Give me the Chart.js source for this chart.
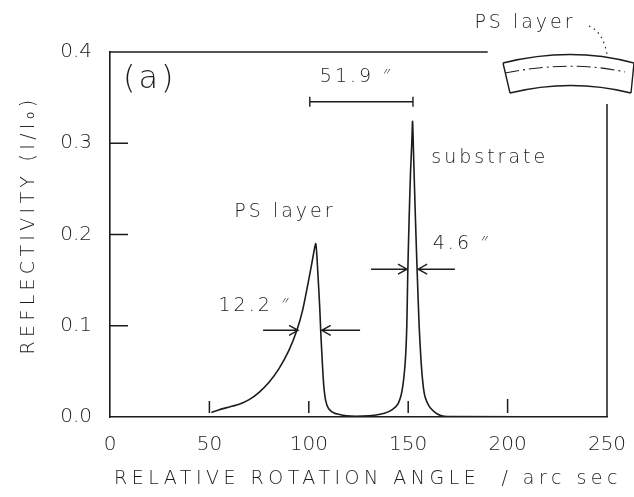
<!DOCTYPE html>
<html>
<head>
<meta charset="utf-8">
<script src="https://cdn.jsdelivr.net/npm/chart.js@4/dist/chart.umd.min.js"></script>
<style>
  html, body { margin: 0; padding: 0; background: #fff; }
  canvas { display: block; }
</style>
</head>
<body>
<canvas id="rocking" width="634" height="497"></canvas>
<script>
// rocking curve: relative rotation angle (arc sec) vs reflectivity I/I0
const angle = [51, 55, 60, 65, 70, 75, 80, 85, 90, 94, 97, 99.5, 101.5, 103.5,
  104.5, 105.5, 106, 106.8, 107.5, 108.5, 110, 113, 117, 121, 127, 133, 138, 142,
  145, 147, 148.5, 149.3, 149.8, 150.5, 151.2, 151.8, 152.2,
  152.8, 153.6, 154.5, 155.5, 156.5, 157.5, 158.5, 160.5, 163, 166, 170, 250];
const refl = [0.005, 0.008, 0.011, 0.014, 0.019, 0.027, 0.038, 0.053, 0.073, 0.095, 0.118, 0.145, 0.168, 0.19,
  0.16, 0.12, 0.094, 0.06, 0.035, 0.018, 0.009, 0.004, 0.002, 0.001, 0.001, 0.002, 0.004, 0.008,
  0.015, 0.03, 0.06, 0.1, 0.16, 0.22, 0.27, 0.3, 0.324,
  0.28, 0.22, 0.16, 0.1, 0.06, 0.035, 0.022, 0.012, 0.006, 0.002, 0.0005, 0];

const xTicks = [0, 50, 100, 150, 200, 250];
const yTicks = [0, 0.1, 0.2, 0.3, 0.4];
const xTitle = 'RELATIVE ROTATION ANGLE  / arc sec';
const yTitle = 'REFLECTIVITY (I/I\u2080)';

// half-width markers: [from, to] pairs, arrow head at "to"
const psWidthY = 0.095;
const psArrows = [[77, 94.6], [125.8, 106.5]];
const subWidthY = 0.162;
const subArrows = [[131.3, 149.4], [173.5, 155]];
// peak separation bar
const sepY = 0.3455;
const sepFrom = 100.5, sepTo = 152.4;

// labels: [text, x, y, size]
const notes = [
  ['(a)', 20, 0.370, 32],
  ['51.9 \u2033', 124, 0.3726, 19],
  ['substrate', 191, 0.2838, 19],
  ['PS layer', 88, 0.225, 19],
  ['4.6 \u2033', 177, 0.19, 19],
  ['12.2 \u2033', 73, 0.1216, 19]
];

const ink = '#1c1c1c';
const FONT = '"DejaVu Sans", "Noto Sans", sans-serif';

function arrow(ctx, x1, x2, y) {
  const d = Math.sign(x2 - x1);
  ctx.beginPath();
  ctx.moveTo(x1, y);
  ctx.lineTo(x2, y);
  ctx.moveTo(x2 - d * 9, y - 5);
  ctx.lineTo(x2, y);
  ctx.lineTo(x2 - d * 9, y + 5);
  ctx.stroke();
}

const extras = {
  id: 'extras',
  afterDraw(chart) {
    const ctx = chart.ctx;
    const xs = chart.scales.x, ys = chart.scales.y;
    const a = chart.chartArea;
    ctx.save();
    ctx.strokeStyle = ink;
    ctx.fillStyle = ink;
    ctx.lineWidth = 1.5;

    // partial frame on top and right
    ctx.beginPath();
    ctx.moveTo(a.left, a.top);
    ctx.lineTo(xs.getPixelForValue(190), a.top);
    ctx.moveTo(a.right, ys.getPixelForValue(0.343));
    ctx.lineTo(a.right, a.bottom);
    ctx.stroke();

    // inward tick marks
    ctx.beginPath();
    [0.1, 0.2, 0.3].forEach(v => {
      const py = ys.getPixelForValue(v);
      ctx.moveTo(a.left, py);
      ctx.lineTo(a.left + 18, py);
    });
    [50, 100, 150, 200].forEach(v => {
      const px = xs.getPixelForValue(v);
      ctx.moveTo(px, a.bottom - 4);
      ctx.lineTo(px, a.bottom - (v === 200 ? 18 : 16));
    });
    ctx.stroke();

    // width arrows
    ctx.lineWidth = 1.4;
    psArrows.forEach(p => arrow(ctx, xs.getPixelForValue(p[0]), xs.getPixelForValue(p[1]), ys.getPixelForValue(psWidthY)));
    subArrows.forEach(p => arrow(ctx, xs.getPixelForValue(p[0]), xs.getPixelForValue(p[1]), ys.getPixelForValue(subWidthY)));

    // separation bar
    const by = ys.getPixelForValue(sepY);
    const b1 = xs.getPixelForValue(sepFrom), b2 = xs.getPixelForValue(sepTo);
    ctx.beginPath();
    ctx.moveTo(b1, by); ctx.lineTo(b2, by);
    ctx.moveTo(b1, by - 5); ctx.lineTo(b1, by + 5);
    ctx.moveTo(b2, by - 5); ctx.lineTo(b2, by + 5);
    ctx.stroke();

    // annotation text
    ctx.textAlign = 'center';
    ctx.textBaseline = 'middle';
    ctx.letterSpacing = '3px';
    notes.forEach(n => {
      ctx.font = '200 ' + n[3] + 'px ' + FONT;
      ctx.fillText(n[0], xs.getPixelForValue(n[1]), ys.getPixelForValue(n[2]));
    });

    // sketch of the bent sample
    const r = a.right, t = a.top;
    ctx.lineWidth = 1.4;
    ctx.beginPath();
    ctx.moveTo(r - 104, t + 11);
    ctx.quadraticCurveTo(r - 36, t - 6, r + 27, t + 11);
    ctx.moveTo(r - 97, t + 41);
    ctx.quadraticCurveTo(r - 36, t + 26, r + 24, t + 41);
    ctx.moveTo(r - 104, t + 11);
    ctx.lineTo(r - 97, t + 41);
    ctx.moveTo(r + 27, t + 11);
    ctx.lineTo(r + 24, t + 41);
    ctx.stroke();
    ctx.lineWidth = 1.1;
    ctx.setLineDash([14, 4, 2, 4]);
    ctx.beginPath();
    ctx.moveTo(r - 102, t + 21);
    ctx.quadraticCurveTo(r - 36, t + 8, r + 18, t + 20);
    ctx.stroke();
    ctx.setLineDash([1.5, 4]);
    ctx.beginPath();
    ctx.moveTo(r - 18, t - 26);
    ctx.quadraticCurveTo(r - 4, t - 20, r, t + 2);
    ctx.stroke();
    ctx.setLineDash([]);
    ctx.font = '200 19px ' + FONT;
    ctx.fillText('PS layer', r - 82, t - 29);

    // axis titles
    ctx.font = '200 19px ' + FONT;
    ctx.letterSpacing = '4.5px';
    ctx.fillText(xTitle, 368, 479);
    ctx.save();
    ctx.translate(29, 225);
    ctx.rotate(-Math.PI / 2);
    ctx.letterSpacing = '4.3px';
    ctx.fillText(yTitle, 0, 0);
    ctx.restore();
    ctx.restore();
  }
};

new Chart(document.getElementById('rocking'), {
  type: 'line',
  data: {
    datasets: [{
      data: angle.map((x, i) => ({ x: x, y: refl[i] })),
      borderColor: ink,
      borderWidth: 1.6,
      pointRadius: 0,
      tension: 0.2,
      fill: false
    }]
  },
  options: {
    responsive: false,
    animation: false,
    devicePixelRatio: 1,
    layout: { padding: { top: 52, right: 27, left: 0, bottom: 0 } },
    plugins: { legend: { display: false }, tooltip: { enabled: false } },
    scales: {
      x: {
        type: 'linear',
        min: xTicks[0],
        max: xTicks[xTicks.length - 1],
        afterBuildTicks: s => { s.ticks = xTicks.map(v => ({ value: v })); },
        afterFit: s => { s.height = 80; s.paddingLeft = 0; s.paddingRight = 0; },
        grid: { display: false, drawTicks: false },
        border: { display: true, color: ink, width: 1.6 },
        ticks: { padding: 16, color: ink, font: { family: FONT, size: 20, weight: 200 }, maxRotation: 0 }
      },
      y: {
        type: 'linear',
        min: yTicks[0],
        max: yTicks[yTicks.length - 1],
        afterBuildTicks: s => { s.ticks = yTicks.map(v => ({ value: v })); },
        afterFit: s => { s.width = 110; s.paddingTop = 0; s.paddingBottom = 0; },
        grid: { display: false, drawTicks: false },
        border: { display: true, color: ink, width: 1.6 },
        ticks: { padding: 18, color: ink, font: { family: FONT, size: 20, weight: 200 }, callback: v => v.toFixed(1) }
      }
    }
  },
  plugins: [extras]
});
</script>
</body>
</html>
